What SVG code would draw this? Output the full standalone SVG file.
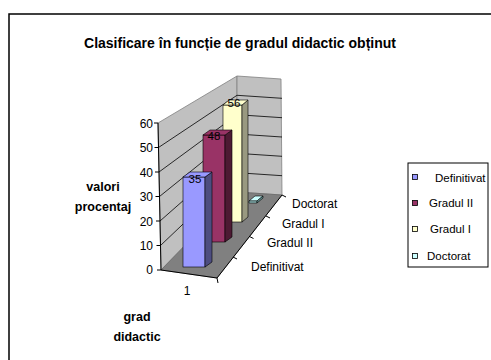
<svg xmlns="http://www.w3.org/2000/svg" width="491" height="360" viewBox="0 0 491 360">
<style>
text{font-family:"Liberation Sans",Arial,sans-serif;fill:#000}
.t{font-size:14px;font-weight:bold}
.ax{font-size:12.5px;font-weight:bold}
.tk{font-size:12px}
.lb{font-size:11.5px}
.wall{fill:#c0c0c0;stroke:#808080;stroke-width:0.8}
.grid{stroke:#000;stroke-width:0.8;fill:none}
.edge{stroke:#000;stroke-width:1;fill:none}
.bar{stroke:#000;stroke-width:0.6}
</style>
<rect x="9" y="14" width="500" height="400" fill="#fff" stroke="#000" stroke-width="1.5"/>
<text class="t" x="240" y="48" text-anchor="middle">Clasificare în funcție de gradul didactic obținut</text>

<g id="plot">
<polygon class="wall" points="158,123 237,76 237,192 161,270"/>
<polygon class="wall" points="237,76 281,79 282,195 237,192"/>
<polygon points="161,270 217,278 282,195 237,192" fill="#808080" stroke="#606060" stroke-width="0.6"/>
<g class="grid">
<line x1="160.5" y1="245.5" x2="237" y2="172.7"/>
<line x1="160" y1="221" x2="237" y2="153.3"/>
<line x1="159.5" y1="196.5" x2="237" y2="134"/>
<line x1="159" y1="172" x2="237" y2="114.7"/>
<line x1="158.5" y1="147.5" x2="237" y2="95.3"/>
<line x1="237" y1="172.7" x2="282" y2="175.7"/>
<line x1="237" y1="153.3" x2="282" y2="156.3"/>
<line x1="237" y1="134" x2="282" y2="137"/>
<line x1="237" y1="114.7" x2="282" y2="117.7"/>
<line x1="237" y1="95.3" x2="282" y2="98.3"/>
</g>
<g class="edge">
<line x1="158" y1="123" x2="161" y2="270"/>
<line x1="161" y1="270" x2="217" y2="278"/>
<line x1="217" y1="278" x2="282" y2="195"/>
<line x1="157" y1="270" x2="161" y2="270"/>
<line x1="156.5" y1="245.5" x2="160.5" y2="245.5"/>
<line x1="156" y1="221" x2="160" y2="221"/>
<line x1="155.5" y1="196.5" x2="159.5" y2="196.5"/>
<line x1="155" y1="172" x2="159" y2="172"/>
<line x1="154.5" y1="147.5" x2="158.5" y2="147.5"/>
<line x1="154" y1="123" x2="158" y2="123"/>
<line x1="217" y1="278" x2="218" y2="283"/>
<line x1="233" y1="257" x2="237" y2="259"/>
<line x1="249.5" y1="236.5" x2="253.5" y2="238.5"/>
<line x1="266" y1="216" x2="270" y2="218"/>
<line x1="282" y1="195" x2="286" y2="197"/>
</g>
<g class="tk" text-anchor="end">
<text x="153" y="274">0</text>
<text x="153" y="250">10</text>
<text x="153" y="226">20</text>
<text x="153" y="201">30</text>
<text x="153" y="177">40</text>
<text x="153" y="152">50</text>
<text x="153" y="128">60</text>
</g>
</g>

<g id="bar-doctorat">
<polygon class="bar" points="249,201 255,196 263,196 257,201" fill="#ccffff"/>
<polygon class="bar" points="249,201 257,201 257,203 249,203" fill="#99cccc"/>
<polygon class="bar" points="257,201 263,196 263,198 257,203" fill="#669999"/>
</g>
<g id="bar-gradul-i">
<rect class="bar" x="223" y="105" width="19" height="117" fill="#ffffcc"/>
<polygon class="bar" points="242,105 248,100 248,217 242,222" fill="#999980"/>
<polygon class="bar" points="223,105 229,100 248,100 242,105" fill="#ffffcc"/>
<text class="lb" x="234" y="107" text-anchor="middle">56</text>
</g>
<g id="bar-gradul-ii">
<rect class="bar" x="203" y="135" width="22" height="107" fill="#993366"/>
<polygon class="bar" points="225,135 232,130 232,237 225,242" fill="#4d1a33"/>
<polygon class="bar" points="203,135 210,130 232,130 225,135" fill="#993366"/>
<text class="lb" x="214" y="140" text-anchor="middle">48</text>
</g>
<g id="bar-definitivat">
<rect class="bar" x="183" y="177" width="22" height="90" fill="#9999ff"/>
<polygon class="bar" points="205,177 212,172 212,262 205,267" fill="#4d4d80"/>
<polygon class="bar" points="183,177 190,172 212,172 205,177" fill="#9999ff"/>
<text class="lb" x="195" y="183" text-anchor="middle">35</text>
</g>

<g id="axis-labels">
<text class="tk" x="292" y="208">Doctorat</text>
<text class="tk" x="282" y="228">Gradul I</text>
<text class="tk" x="267" y="247">Gradul II</text>
<text class="tk" x="251" y="271">Definitivat</text>
<text class="tk" x="187" y="295" text-anchor="middle">1</text>
<text class="ax" x="103" y="191" text-anchor="middle">valori</text>
<text class="ax" x="103" y="211" text-anchor="middle">procentaj</text>
<text class="ax" x="137" y="321" text-anchor="middle">grad</text>
<text class="ax" x="137" y="341" text-anchor="middle">didactic</text>
</g>

<g id="legend">
<rect x="408" y="163" width="80" height="104" fill="#fff" stroke="#000" stroke-width="1"/>
<rect x="412.5" y="174.5" width="5" height="5" fill="#9999ff" stroke="#000" stroke-width="0.8"/>
<rect x="412.5" y="200.5" width="5" height="5" fill="#993366" stroke="#000" stroke-width="0.8"/>
<rect x="412.5" y="226.5" width="5" height="5" fill="#ffffcc" stroke="#000" stroke-width="0.8"/>
<rect x="412.5" y="253.5" width="5" height="5" fill="#ccffff" stroke="#000" stroke-width="0.8"/>
<text class="lb" x="435" y="182">Definitivat</text>
<text class="lb" x="429" y="207">Gradul II</text>
<text class="lb" x="430" y="233">Gradul I</text>
<text class="lb" x="427" y="260">Doctorat</text>
</g>
</svg>
